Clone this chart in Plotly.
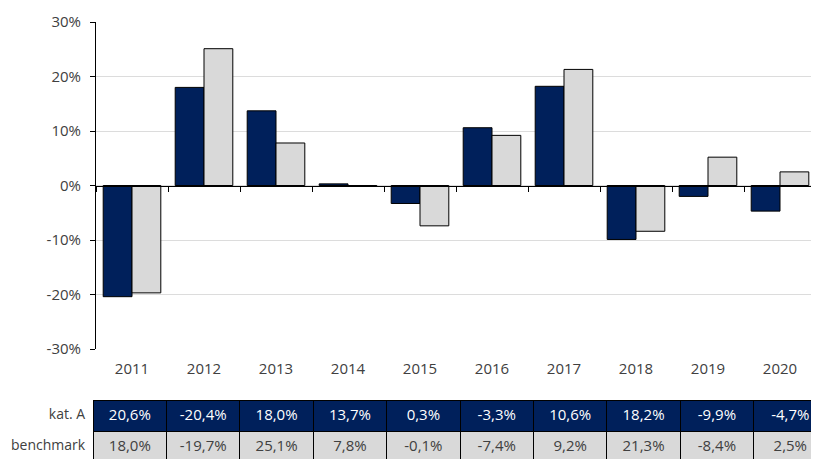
import plotly.graph_objects as go

years = ["2011", "2012", "2013", "2014", "2015", "2016", "2017", "2018", "2019", "2020"]
kat_a = [-20.4, 18.0, 13.7, 0.3, -3.3, 10.6, 18.2, -9.9, -2.0, -4.7]
benchmark = [-19.7, 25.1, 7.8, -0.1, -7.4, 9.2, 21.3, -8.4, 5.2, 2.5]

table_kat_a = ["20,6%", "-20,4%", "18,0%", "13,7%", "0,3%", "-3,3%", "10,6%", "18,2%", "-9,9%", "-4,7%"]
table_bench = ["18,0%", "-19,7%", "25,1%", "7,8%", "-0,1%", "-7,4%", "9,2%", "21,3%", "-8,4%", "2,5%"]
row_labels = ["kat. A", "benchmark"]

y_ticks = [-30, -20, -10, 0, 10, 20, 30]
y_ticktext = ["-30%", "-20%", "-10%", "0%", "10%", "20%", "30%"]

NAVY = "#00205B"
GRAY = "#D9D9D9"
TXT = "#404040"
FONT = "Open Sans"
FS = 15

# the page places the figure 8px right/down (default body margin); compensate
OFF = 8
W, H = 819, 459
mt, mb = 22 - OFF, 0
ph = H - mt - mb
ax_left, ax_right = 96 - OFF, 816 - OFF
y_bottom = 349 - OFF
ydom = [(H - y_bottom) / ph, 1.0]
zero_pos = (ydom[0] + ydom[1]) / 2

fig = go.Figure()
fig.add_trace(go.Bar(x=years, y=kat_a, name=row_labels[0], marker=dict(color=NAVY, line=dict(color="black", width=1))))
fig.add_trace(go.Bar(x=years, y=benchmark, name=row_labels[1], marker=dict(color=GRAY, line=dict(color="black", width=1))))
fig.add_trace(go.Scatter(x=years, y=[None] * len(years), xaxis="x2", yaxis="y", showlegend=False, hoverinfo="skip", mode="markers"))

n = len(years)
colw = [93 - OFF] + [73.3] * n
tab_top = 400.5 - OFF
fig.add_trace(go.Table(
    domain=dict(x=[0, 1], y=[0, (H - tab_top) / ph]),
    columnwidth=colw,
    header=dict(
        values=[row_labels[0]] + table_kat_a,
        fill_color=["white"] + [NAVY] * n,
        line=dict(color=["white"] + ["black"] * n, width=1),
        font=dict(family=FONT, size=[14] + [FS] * n, color=[TXT] + ["white"] * n),
        align=["right"] + ["center"] * n,
        height=31,
    ),
    cells=dict(
        values=[[row_labels[1]]] + [[v] for v in table_bench],
        fill_color=[["white"]] + [[GRAY]] * n,
        line=dict(color=["white"] + ["black"] * n, width=1),
        font=dict(family=FONT, size=[14] + [FS] * n, color=TXT),
        align=["right"] + ["center"] * n,
        height=31,
    ),
))

fig.update_layout(
    width=W, height=H,
    margin=dict(l=0, r=0, t=mt, b=mb, autoexpand=False),
    paper_bgcolor="white", plot_bgcolor="white",
    barmode="group", bargap=0.2, bargroupgap=0,
    showlegend=False,
    font=dict(family=FONT, size=FS, color=TXT),
    xaxis=dict(
        domain=[ax_left / W, ax_right / W], type="category", range=[-0.5, n - 0.5],
        showline=False, showgrid=False, zeroline=False, automargin=False,
        ticks="outside", ticklen=6, tickcolor="rgba(0,0,0,0)",
        tickfont=dict(family=FONT, size=FS, color=TXT),
    ),
    xaxis2=dict(
        domain=[ax_left / W, ax_right / W], type="category", range=[-0.5, n - 0.5],
        overlaying="x", anchor="free", position=zero_pos, automargin=False,
        showline=True, linecolor="black", linewidth=1,
        showgrid=False, zeroline=False, showticklabels=False,
        ticks="outside", tickson="boundaries", ticklen=5, tickcolor="black", tickwidth=1,
    ),
    yaxis=dict(
        domain=ydom, range=[-30, 30], automargin=False,
        tickvals=y_ticks, ticktext=y_ticktext,
        showline=True, linecolor="black", linewidth=1,
        ticks="outside", ticklen=5, tickcolor="black",
        showgrid=True, gridcolor="#DCDCDC", gridwidth=1, zeroline=False,
        ticklabelstandoff=6,
        tickfont=dict(family=FONT, size=FS, color=TXT),
    ),
)

fig.write_html("out.html")
